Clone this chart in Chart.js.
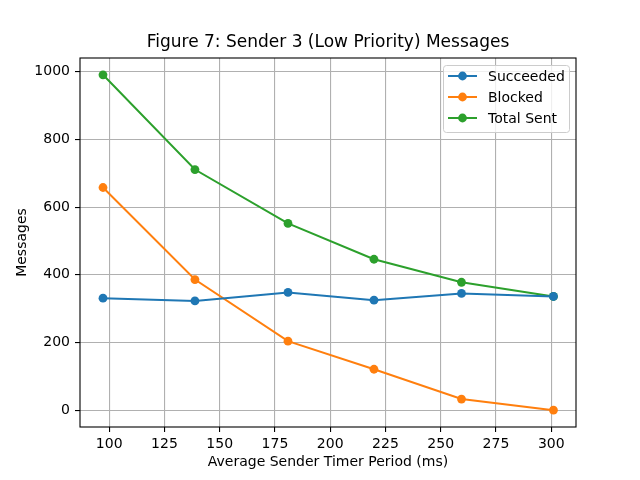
<!DOCTYPE html>
<html>
<head>
<meta charset="utf-8">
<script src="https://cdn.jsdelivr.net/npm/chart.js@4/dist/chart.umd.min.js"></script>
<style>
  html, body { margin: 0; padding: 0; background: #fff; }
  #wrap { width: 640px; height: 480px; }
</style>
</head>
<body>
<div id="wrap"><canvas id="msgChart" width="640" height="480"></canvas></div>
<script>
// values
const timerPeriods = [97.2, 138.8, 180.9, 219.8, 259.4, 301.0];
const succeeded = [331, 323, 348, 325, 345, 336];
const blocked = [658, 386, 204, 121, 33, 0];
const totalSent = [991, 711, 552, 446, 378, 336];

const xTicks = [100, 125, 150, 175, 200, 225, 250, 275, 300];
const yTicks = [0, 200, 400, 600, 800, 1000];

const seriesNames = ['Succeeded', 'Blocked', 'Total Sent'];
const seriesColors = ['#1f77b4', '#ff7f0e', '#2ca02c'];
const chartTitle = 'Figure 7: Sender 3 (Low Priority) Messages';

Chart.defaults.font.family = "'DejaVu Sans', sans-serif";
Chart.defaults.color = '#000';

function toPoints(values) {
    return values.map((v, i) => ({ x: timerPeriods[i], y: v }));
}

// box around the plot area + title centred over the axes (matplotlib style)
const frame = {
    id: 'frame',
    afterDatasetsDraw(chart) {
        const { ctx, chartArea: a } = chart;
        ctx.save();
        ctx.strokeStyle = '#000';
        ctx.lineWidth = 1.1;
        ctx.strokeRect(a.left, a.top, a.right - a.left, a.bottom - a.top);
        ctx.fillStyle = '#000';
        ctx.font = "17px 'DejaVu Sans', sans-serif";
        ctx.textAlign = 'center';
        ctx.textBaseline = 'middle';
        ctx.fillText(chartTitle, (a.left + a.right) / 2, 43);
        ctx.restore();
    }
};

// legend sitting inside the axes, upper right
const innerLegend = {
    id: 'innerLegend',
    afterDraw(chart) {
        const { ctx } = chart;
        const x = 443.5, y = 65.5, w = 126, h = 67;
        ctx.save();
        ctx.fillStyle = 'rgba(255,255,255,0.8)';
        ctx.strokeStyle = '#cccccc';
        ctx.lineWidth = 1;
        ctx.beginPath();
        ctx.roundRect(x, y, w, h, 3);
        ctx.fill();
        ctx.stroke();
        ctx.font = "14px 'DejaVu Sans', sans-serif";
        ctx.textBaseline = 'middle';
        chart.data.datasets.forEach((ds, i) => {
            const cy = 76 + i * 21;
            ctx.strokeStyle = ds.borderColor;
            ctx.lineWidth = 2;
            ctx.beginPath();
            ctx.moveTo(448, cy);
            ctx.lineTo(477, cy);
            ctx.stroke();
            ctx.fillStyle = ds.borderColor;
            ctx.beginPath();
            ctx.arc(462.5, cy, 4.4, 0, Math.PI * 2);
            ctx.fill();
            ctx.fillStyle = '#000';
            ctx.fillText(ds.label, 488, cy + 1);
        });
        ctx.restore();
    }
};

const ctx = document.getElementById('msgChart').getContext('2d');
new Chart(ctx, {
    type: 'line',
    data: {
        datasets: [succeeded, blocked, totalSent].map((vals, i) => ({
            label: seriesNames[i],
            data: toPoints(vals),
            borderColor: seriesColors[i],
            backgroundColor: seriesColors[i],
            borderWidth: 2,
            pointRadius: 4.4,
            pointHoverRadius: 4.4,
            pointBorderWidth: 0,
            tension: 0
        }))
    },
    options: {
        responsive: false,
        animation: false,
        events: [],
        layout: { padding: { left: 0, right: 64, top: 58, bottom: 0 } },
        plugins: {
            legend: { display: false },
            tooltip: { enabled: false },
            title: { display: false }
        },
        scales: {
            x: {
                type: 'linear',
                min: 86.8,
                max: 311.2,
                afterBuildTicks(scale) {
                    scale.ticks = xTicks.map(v => ({ value: v }));
                },
                afterFit(scale) { scale.height = 53; },
                grid: { color: '#b0b0b0', lineWidth: 1.1, tickColor: '#000', tickLength: 5 },
                border: { display: false },
                ticks: { font: { size: 14 }, color: '#000', padding: 4, maxRotation: 0,
                         callback: v => String(v) },
                title: {
                    display: true,
                    text: 'Average Sender Timer Period (ms)',
                    font: { size: 14 },
                    color: '#000',
                    padding: { top: 0, bottom: 9.6 }
                }
            },
            y: {
                type: 'linear',
                min: -49.6,
                max: 1040.6,
                afterBuildTicks(scale) {
                    scale.ticks = yTicks.map(v => ({ value: v }));
                },
                afterFit(scale) { scale.width = 80; },
                grid: { color: '#b0b0b0', lineWidth: 1.1, tickColor: '#000', tickLength: 5 },
                border: { display: false },
                ticks: { font: { size: 14 }, color: '#000', padding: 5,
                         callback: v => String(v) },
                title: {
                    display: true,
                    text: 'Messages',
                    font: { size: 14 },
                    color: '#000',
                    padding: { top: 13.6, bottom: 0 }
                }
            }
        }
    },
    plugins: [frame, innerLegend]
});
</script>
</body>
</html>
